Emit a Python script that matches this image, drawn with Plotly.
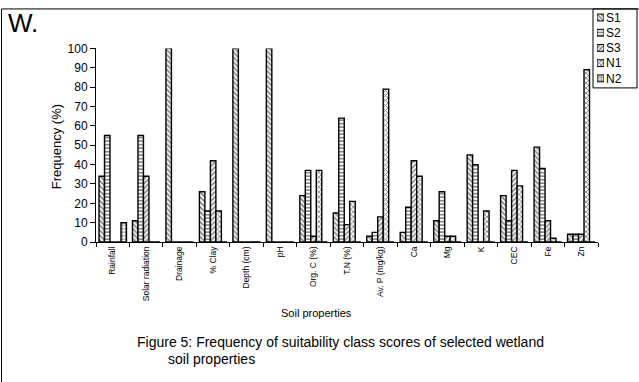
import plotly.graph_objects as go

W, H = 639, 382

categories = ["Rainfall", "Solar radiation", "Drainage", "% Clay", "Depth (cm)", "pH",
              "Org. C (%)", "T.N (%)", "Av. P (mg/kg)", "Ca", "Mg", "K", "CEC", "Fe", "Zn"]
s1 = [34, 11, 100, 26, 100, 100, 24, 15, 3, 5, 11, 45, 24, 49, 4]
s2 = [55, 55, 0, 16, 0, 0, 37, 64, 5, 18, 26, 40, 11, 38, 4]
s3 = [0, 34, 0, 42, 0, 0, 3, 9, 13, 42, 3, 0, 37, 11, 4]
n1 = [0, 0, 0, 16, 0, 0, 37, 21, 79, 34, 3, 16, 29, 2, 89]
n2 = [10, 0, 0, 0, 0, 0, 0, 0, 0, 0, 0, 0, 0, 0, 0]
series_names = ["S1", "S2", "S3", "N1", "N2"]
y_ticks = list(range(0, 101, 10))

series_values = [s1, s2, s3, n1, n2]
patterns = ["\\", "-", "/", "x", "."]
FONT = "Arial, Liberation Sans, sans-serif"


def px(x):
    return x / W


def py(y):
    return 1 - y / H


fig = go.Figure()
for name, vals, pat in zip(series_names, series_values, patterns):
    fig.add_trace(go.Bar(
        x=categories, y=vals, name=name, showlegend=False,
        marker=dict(color="white", line=dict(color="black", width=1.4),
                    pattern=dict(shape=pat, fgcolor="black", bgcolor="white",
                                 size=3.5, solidity=0.45)),
    ))

# custom legend swatches (drawn through their own small axes)
fig.add_trace(go.Bar(
    x=[1] * len(series_names), y=series_names, orientation="h",
    xaxis="x2", yaxis="y2", width=0.45, showlegend=False, hoverinfo="skip",
    marker=dict(color="white", line=dict(color="black", width=1),
                pattern=dict(shape=patterns, fgcolor="black", bgcolor="white",
                             size=3, solidity=0.5)),
))

fig.update_layout(
    width=W, height=H, autosize=False,
    margin=dict(l=0, r=0, t=0, b=0, pad=0),
    paper_bgcolor="white", plot_bgcolor="white",
    font=dict(family=FONT, color="black", size=12),
    barmode="group", bargap=0.18, bargroupgap=0,
    xaxis=dict(domain=[px(96), px(598)], anchor="y", type="category",
               showline=True, linecolor="black", linewidth=1,
               ticks="outside", ticklen=4, tickcolor="black", tickson="boundaries",
               tickangle=-90, tickfont=dict(size=8.5), showgrid=False, zeroline=False),
    yaxis=dict(domain=[py(244), py(43)], anchor="x", range=[0, 100],
               tickvals=y_ticks, showline=True, linecolor="black", linewidth=1,
               ticks="outside", ticklen=5, tickcolor="black",
               tickfont=dict(size=12), showgrid=False, zeroline=False),
    xaxis2=dict(domain=[px(597), px(604)], anchor="y2", range=[0, 1],
                visible=False, fixedrange=True),
    yaxis2=dict(domain=[py(82), py(3)], anchor="x2", type="category",
                autorange="reversed", side="right", showline=False, showgrid=False,
                zeroline=False, ticks="", tickfont=dict(size=12), ticklabelstandoff=1),
    shapes=[
        dict(type="rect", xref="paper", yref="paper", x0=px(1.5), x1=1.05,
             y0=-0.05, y1=py(2), line=dict(color="black", width=1)),
        dict(type="rect", xref="paper", yref="paper", x0=px(593), x1=px(637),
             y0=py(84), y1=py(2), line=dict(color="black", width=1)),
    ],
    annotations=[
        dict(text="W.", xref="paper", yref="paper", x=px(6), y=py(17),
             xanchor="left", yanchor="middle", showarrow=False, font=dict(size=26)),
        dict(text="Frequency (%)", xref="paper", yref="paper", x=px(47), y=py(145),
             textangle=-90, showarrow=False, font=dict(size=13)),
        dict(text="Soil properties", xref="paper", yref="paper", x=px(316), y=py(326),
             showarrow=False, font=dict(size=11)),
        dict(text="Figure 5: Frequency of suitability class scores of selected wetland",
             xref="paper", yref="paper", x=px(135), y=py(358), xanchor="left",
             showarrow=False, font=dict(size=14)),
        dict(text="soil properties", xref="paper", yref="paper", x=px(166), y=py(376),
             xanchor="left", showarrow=False, font=dict(size=14)),
    ],
)

fig.write_html("out.html", config={"displayModeBar": False},
               post_script="document.body.style.margin='0';"
                           "document.body.style.overflow='hidden';")
